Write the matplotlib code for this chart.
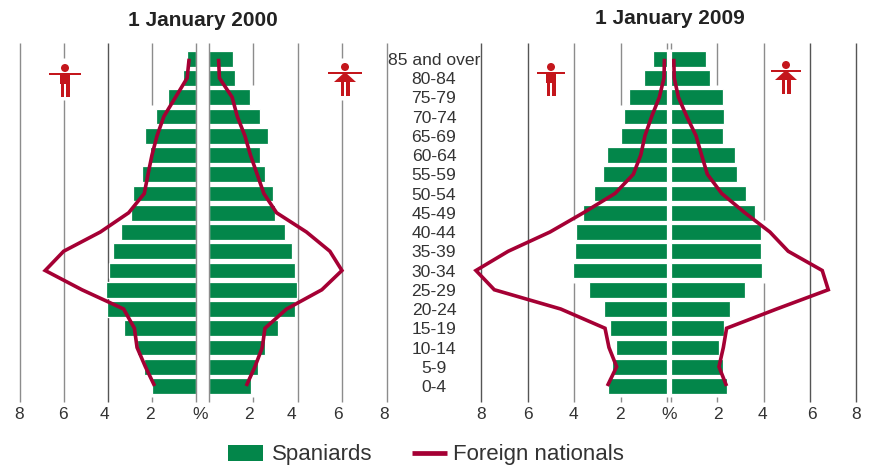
import matplotlib
matplotlib.use("Agg")
import matplotlib.pyplot as plt
from matplotlib.patches import Circle, Polygon, Rectangle

plt.rcParams["font.family"] = ["Liberation Sans", "DejaVu Sans"]

W, H = 871, 465
GREEN = "#03864a"
RED = "#a50034"
ICON = "#c4161c"
TEXT = "#333333"
GREY = "#8c8c8c"
DARK = "#555555"

# ------------------------
# Data (top row = 85 and over)
# ------------------------
ages = ["85 and over", "80-84", "75-79", "70-74", "65-69", "60-64", "55-59", "50-54", "45-49",
        "40-44", "35-39", "30-34", "25-29", "20-24", "15-19", "10-14", "5-9", "0-4"]

male_es_2000 = [0.37, 0.55, 1.25, 1.81, 2.28, 2.08, 2.42, 2.84, 2.94,
                3.39, 3.76, 3.94, 4.08, 4.05, 3.27, 2.65, 2.36, 1.99]
male_fn_2000 = [0.29, 0.38, 0.91, 1.44, 1.75, 1.98, 2.16, 2.33, 3.04,
                4.33, 6.0, 6.84, 5.17, 3.27, 2.78, 2.66, 2.28, 1.86]
female_es_2000 = [1.08, 1.17, 1.88, 2.33, 2.65, 2.33, 2.54, 2.91, 2.96,
                  3.41, 3.75, 3.87, 3.95, 3.89, 3.11, 2.51, 2.24, 1.90]
female_fn_2000 = [0.45, 0.49, 1.06, 1.29, 1.63, 1.88, 2.18, 2.48, 3.05,
                  4.39, 5.44, 5.98, 5.08, 3.50, 2.53, 2.41, 2.08, 1.69]

male_es_2009 = [0.60, 0.99, 1.62, 1.84, 2.0, 2.57, 2.77, 3.16, 3.62,
                3.92, 3.98, 4.05, 3.38, 2.72, 2.44, 2.21, 2.37, 2.56]
male_fn_2009 = [0.11, 0.13, 0.33, 0.66, 0.95, 1.13, 1.45, 2.24, 3.6,
                5.04, 6.84, 8.23, 7.44, 4.58, 2.67, 2.5, 2.17, 2.57]
female_es_2009 = [1.5, 1.67, 2.24, 2.27, 2.23, 2.76, 2.85, 3.22, 3.63,
                  3.88, 3.87, 3.91, 3.21, 2.56, 2.3, 2.09, 2.23, 2.4]
female_fn_2009 = [0.12, 0.14, 0.32, 0.68, 1.08, 1.32, 1.57, 2.19, 3.19,
                  4.27, 5.06, 6.53, 6.79, 4.56, 2.4, 2.26, 2.07, 2.4]

ticks = [2, 4, 6, 8]

# pixel geometry
TOP, BOTTOM = 43, 402
ROW0, STEP = 386, 19.25
rows = list(range(len(ages) - 1, -1, -1))


def row_y(r):
    return ROW0 - r * STEP


def px_axes(fig, x_zero, x_eight, flip):
    left, right = min(x_zero, x_eight), max(x_zero, x_eight)
    ax = fig.add_axes([left / W, 1 - BOTTOM / H, (right - left) / W, (BOTTOM - TOP) / H])
    ax.set_xlim(8, 0) if flip else ax.set_xlim(0, 8)
    ax.set_ylim((ROW0 - BOTTOM) / STEP, (ROW0 - TOP) / STEP)
    ax.axis("off")
    return ax


def half(ax, es, fn, lines, label_dx):
    # lines: (x value, colour, [(row from, row to), ...])
    y0, y1 = ax.get_ylim()
    for x, col, spans in lines:
        for a, b in spans:
            a = y0 if a is None else a
            b = y1 if b is None else b
            ax.vlines(x, a, b, color=col, lw=1.0, zorder=1 if x else 4, clip_on=False)
    ax.barh(rows, es, height=0.83, color=GREEN, edgecolor="white", linewidth=0.9, zorder=2)
    ax.plot(fn, rows, color=RED, lw=2.6, solid_joinstyle="miter", solid_capstyle="butt",
            zorder=5, clip_on=False)
    for t, dx in zip(ticks, label_dx):
        ax.annotate(str(t), xy=(t, 0), xycoords=("data", "axes fraction"),
                    xytext=(dx, -12), textcoords="offset pixels",
                    ha="center", va="center", fontsize=12.5, color=TEXT)


fig = plt.figure(figsize=(W / 100, H / 100), dpi=100)

# 2000 pyramid
ax = px_axes(fig, 195.5, 19.7, True)
half(ax, male_es_2000, male_fn_2000,
     [(0, GREY, [(None, None)]),
      (2, GREY, [(None, -0.57), (14.6, None)]),
      (4, DARK, [(None, None)]),
      (6, GREY, [(None, 14.85), (17.05, None)]),
      (8, GREY, [(None, None)])],
     [-2, -3, -1, -1])

ax = px_axes(fig, 208.5, 387, False)
half(ax, female_es_2000, female_fn_2000,
     [(0, GREY, [(None, None)]),
      (2, GREY, [(None, -0.57), (15.65, None)]),
      (4, GREY, [(None, None)]),
      (6, GREY, [(None, 14.85), (17.05, None)]),
      (8, GREY, [(None, None)])],
     [-4, -6, -4, -3])

# 2009 pyramid
ax = px_axes(fig, 667, 481.3, True)
half(ax, male_es_2009, male_fn_2009,
     [(0, GREY, [(None, -0.57), (17.5, None)]),
      (2, GREY, [(None, -0.57), (14.6, None)]),
      (4, GREY, [(None, 5.35), (8.6, None)]),
      (6, DARK, [(None, None)]),
      (8, DARK, [(None, None)])],
     [-1, -1, 0, 0])

ax = px_axes(fig, 671, 856.3, False)
half(ax, female_es_2009, female_fn_2009,
     [(0, GREY, [(None, -0.57), (17.5, None)]),
      (2, GREY, [(None, -0.57), (15.65, None)]),
      (4, GREY, [(None, 5.35), (8.6, None)]),
      (6, DARK, [(None, None)]),
      (8, DARK, [(None, None)])],
     [1, -1, 2, 0])

# ------------------------
# Texts, icons and legend in pixel coordinates
# ------------------------
ov = fig.add_axes([0, 0, 1, 1], zorder=10)
ov.set_xlim(0, W)
ov.set_ylim(H, 0)
ov.axis("off")

ov.text(203, 20, "1 January 2000", ha="center", va="center", fontsize=15, fontweight="bold", color="#222222")
ov.text(670, 19, "1 January 2009", ha="center", va="center", fontsize=15, fontweight="bold", color="#222222")

for r, label in zip(rows, ages):
    ov.text(434, row_y(r) + 1.5, label, ha="center", va="center", fontsize=12.6, color=TEXT)

ov.text(200.5, 414, "%", ha="center", va="center", fontsize=12.5, color=TEXT)
ov.text(669.5, 414, "%", ha="center", va="center", fontsize=12.5, color=TEXT)


def person(x, y, arm, female):
    ov.add_patch(Circle((x, y), 4, color=ICON, lw=0))
    ov.add_patch(Rectangle((x - arm, y + 5), 2 * arm, 2, color=ICON, lw=0))
    if female:
        ov.add_patch(Polygon([(x, y + 5), (x - 11, y + 15), (x + 11, y + 15)], color=ICON, lw=0))
    else:
        ov.add_patch(Rectangle((x - 5, y + 5), 10, 11, color=ICON, lw=0))
    ov.add_patch(Rectangle((x - 4.5, y + 15), 3.5, 14, color=ICON, lw=0))
    ov.add_patch(Rectangle((x + 1, y + 15), 3.5, 14, color=ICON, lw=0))


person(65, 68, 16, False)
person(345, 67, 17, True)
person(551, 67, 14, False)
person(786, 65, 15, True)

ov.add_patch(Rectangle((228, 445), 35, 16, color=GREEN, lw=0))
ov.text(272, 454, "Spaniards", ha="left", va="center", fontsize=16, color=TEXT)
ov.plot([412, 447], [453, 453], color=RED, lw=3.4, solid_capstyle="butt")
ov.text(453, 454, "Foreign nationals", ha="left", va="center", fontsize=16, color=TEXT)

fig.savefig("out.png", dpi=100)
